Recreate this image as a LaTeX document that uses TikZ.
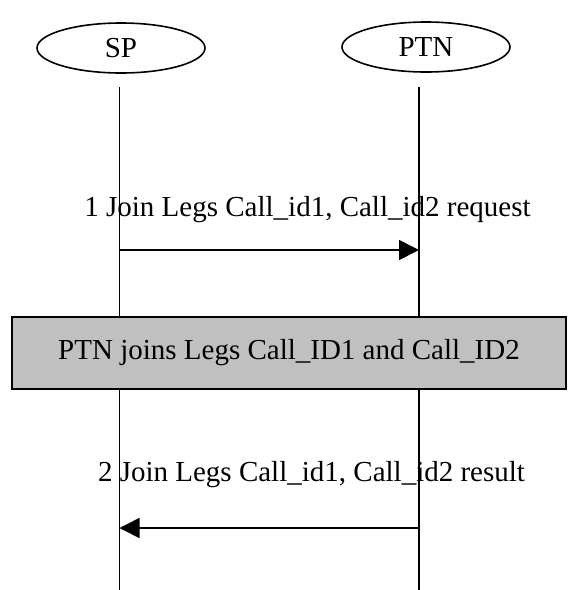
\documentclass[tikz,border=0pt]{standalone}
\usepackage{fontspec}
\setmainfont{Liberation Serif}
\usetikzlibrary{shapes.geometric,arrows.meta}
\definecolor{boxgray}{HTML}{C0C0C0}
\begin{document}
\begin{tikzpicture}[x=1pt,y=-1pt,
  bigtext/.style={font=\fontsize{29}{34}\selectfont},
  actor/.style={ellipse,draw,line width=1.6pt,minimum width=168pt,minimum height=50pt,inner sep=0pt,bigtext},
  life/.style={line width=1.6pt},
  msg/.style={line width=1.6pt,-{Triangle[length=20pt,width=20pt]}},
  lbl/.style={inner sep=0pt,bigtext},
  action/.style={draw,line width=1.6pt,fill=boxgray,minimum width=554pt,minimum height=72pt,inner sep=0pt,bigtext}]
\useasboundingbox (0,0) rectangle (568,590);
\node[actor] (sp) at (121,48) {SP};
\node[actor] (ptn) at (426,47) {PTN};
\coordinate (sptop) at (119.5,87);
\coordinate (spbot) at (119.5,590);
\coordinate (ptntop) at (419,87);
\coordinate (ptnbot) at (419,590);
\draw[life] (sptop) -- (spbot);
\draw[life] (ptntop) -- (ptnbot);
\coordinate (m1s) at (119.5,250);
\coordinate (m1e) at (419,250);
\draw[msg] (m1s) -- (m1e);
\node[lbl] (l1) at (307.5,210) {1 Join Legs Call\_id1, Call\_id2 request};
\node[action] (box) at (289,353) {PTN joins Legs Call\_ID1 and Call\_ID2};
\coordinate (m2s) at (419,528);
\coordinate (m2e) at (119.5,528);
\draw[msg] (m2s) -- (m2e);
\node[lbl] (l2) at (311.5,475) {2 Join Legs Call\_id1, Call\_id2 result};
\end{tikzpicture}
\end{document}
